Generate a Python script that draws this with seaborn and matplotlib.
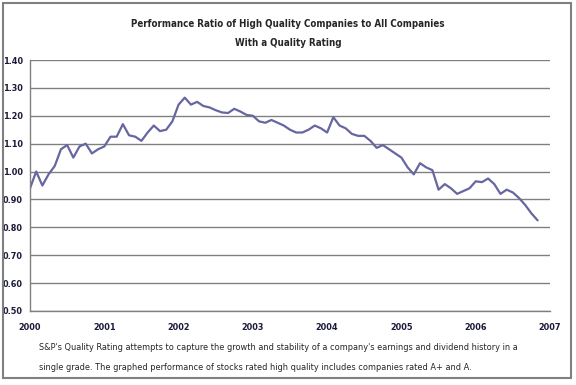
import numpy as np
import pandas as pd
import matplotlib.pyplot as plt
import seaborn as sns
from matplotlib.patches import Rectangle

# monthly ratio, Jan 2000 .. Nov 2006
ratio = [0.94, 1.00, 0.95, 0.99, 1.02, 1.08, 1.095, 1.05, 1.09, 1.10, 1.065, 1.08,
         1.09, 1.125, 1.125, 1.17, 1.13, 1.125, 1.11, 1.14, 1.165, 1.145, 1.15, 1.18,
         1.24, 1.265, 1.24, 1.25, 1.235, 1.23, 1.22, 1.212, 1.21, 1.225, 1.215, 1.203,
         1.20, 1.18, 1.175, 1.185, 1.175, 1.165, 1.15, 1.14, 1.14, 1.15, 1.165, 1.155,
         1.14, 1.195, 1.165, 1.155, 1.135, 1.128, 1.128, 1.11, 1.085, 1.095, 1.08, 1.065,
         1.05, 1.015, 0.99, 1.03, 1.015, 1.005, 0.935, 0.955, 0.94, 0.92, 0.93, 0.94,
         0.965, 0.962, 0.975, 0.955, 0.92, 0.935, 0.925, 0.905, 0.88, 0.85, 0.825]
start_year = 2000
year_ticks = [2000, 2001, 2002, 2003, 2004, 2005, 2006, 2007]
y_ticks = [0.50, 0.60, 0.70, 0.80, 0.90, 1.00, 1.10, 1.20, 1.30, 1.40]

df = pd.DataFrame({'year': start_year + np.arange(len(ratio)) / 12, 'ratio': ratio})

sns.set_style('white')
plt.rcParams['font.family'] = ['DejaVu Sans']
plt.rcParams['font.stretch'] = 'condensed'

fig = plt.figure(figsize=(5.76, 3.85), dpi=100)
ax = fig.add_axes([30 / 576, 1 - 311 / 385, 520 / 576, 251 / 385])

sns.lineplot(data=df, x='year', y='ratio', ax=ax, color='#6666a0', linewidth=1.6)

ax.set_xlim(year_ticks[0], year_ticks[-1])
ax.set_ylim(y_ticks[0], y_ticks[-1])
ax.set_xticks(year_ticks)
ax.set_yticks(y_ticks)
ax.set_xticklabels([str(y) for y in year_ticks], fontsize=6.5, fontweight='bold', color='#1a1a3a')
ax.set_yticklabels([f'{v:.2f}' for v in y_ticks], fontsize=6.5, fontweight='bold', color='#1a1a3a')
ax.set_xlabel('')
ax.set_ylabel('')
ax.grid(axis='y', color='#808080', linewidth=1)
ax.set_axisbelow(True)
for s in ['top', 'right']:
    ax.spines[s].set_visible(False)
for s in ['left', 'bottom']:
    ax.spines[s].set_color('#808080')
    ax.spines[s].set_linewidth(1)
ax.tick_params(axis='x', direction='out', length=3, color='#808080', width=1, pad=6)
ax.tick_params(axis='y', direction='out', length=3, color='#808080', width=1, pad=2)

fig.text(0.5, 1 - 24 / 385, 'Performance Ratio of High Quality Companies to All Companies',
         ha='center', va='center', fontsize=7, fontweight='bold')
fig.text(0.5, 1 - 43 / 385, 'With a Quality Rating',
         ha='center', va='center', fontsize=7, fontweight='bold')

fig.text(39 / 576, 1 - 348 / 385,
         "S&P's Quality Rating attempts to capture the growth and stability of a company's earnings and dividend history in a",
         ha='left', va='center', fontsize=6.6)
fig.text(39 / 576, 1 - 367 / 385,
         'single grade. The graphed performance of stocks rated high quality includes companies rated A+ and A.',
         ha='left', va='center', fontsize=6.6)

fig.patches.append(Rectangle((3 / 576, 1 - 378 / 385), 568 / 576, 375 / 385,
                             transform=fig.transFigure, fill=False,
                             edgecolor='#808080', linewidth=1.5))

plt.savefig('out.png', dpi=100)
